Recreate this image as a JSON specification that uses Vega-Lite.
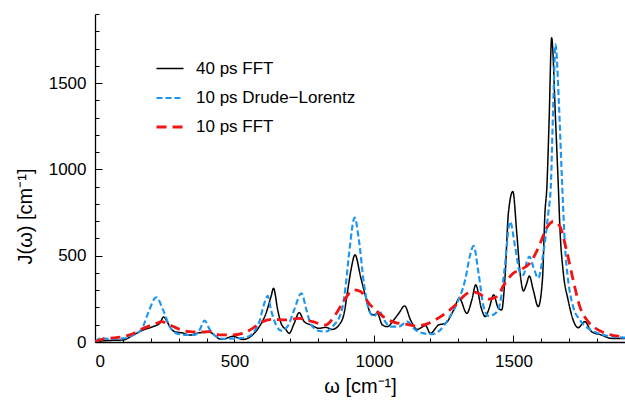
{
  "$schema": "https://vega.github.io/schema/vega-lite/v6.json",
  "width": 530,
  "height": 328,
  "autosize": {"type": "none"},
  "padding": {"left": 95, "top": 14, "right": 0, "bottom": 58},
  "config": {
    "font": "Liberation Sans",
    "view": {"stroke": null},
    "axis": {"grid": false, "domainColor": "black", "tickColor": "black", "labelColor": "black", "titleColor": "black", "labelFont": "Liberation Sans", "titleFont": "Liberation Sans", "labelFontSize": 17, "titleFontSize": 20, "titleFontWeight": "normal", "domainWidth": 1.3, "tickWidth": 1}
  },
  "datasets": {
    "d": [
      {"s": "40 ps FFT", "w": 0, "J": 2}, {"s": "40 ps FFT", "w": 40, "J": 8}, {"s": "40 ps FFT", "w": 101, "J": 12}, {"s": "40 ps FFT", "w": 137, "J": 40}, {"s": "40 ps FFT", "w": 173, "J": 70}, {"s": "40 ps FFT", "w": 208, "J": 89}, {"s": "40 ps FFT", "w": 232, "J": 108}, {"s": "40 ps FFT", "w": 246, "J": 145}, {"s": "40 ps FFT", "w": 258, "J": 120}, {"s": "40 ps FFT", "w": 268, "J": 89}, {"s": "40 ps FFT", "w": 286, "J": 60}, {"s": "40 ps FFT", "w": 315, "J": 52}, {"s": "40 ps FFT", "w": 339, "J": 40}, {"s": "40 ps FFT", "w": 375, "J": 54}, {"s": "40 ps FFT", "w": 411, "J": 56}, {"s": "40 ps FFT", "w": 435, "J": 31}, {"s": "40 ps FFT", "w": 446, "J": 18}, {"s": "40 ps FFT", "w": 458, "J": 16}, {"s": "40 ps FFT", "w": 494, "J": 33}, {"s": "40 ps FFT", "w": 530, "J": 15}, {"s": "40 ps FFT", "w": 565, "J": 41}, {"s": "40 ps FFT", "w": 589, "J": 89}, {"s": "40 ps FFT", "w": 613, "J": 166}, {"s": "40 ps FFT", "w": 631, "J": 263}, {"s": "40 ps FFT", "w": 640, "J": 311}, {"s": "40 ps FFT", "w": 655, "J": 186}, {"s": "40 ps FFT", "w": 667, "J": 108}, {"s": "40 ps FFT", "w": 685, "J": 70}, {"s": "40 ps FFT", "w": 696, "J": 50}, {"s": "40 ps FFT", "w": 714, "J": 108}, {"s": "40 ps FFT", "w": 732, "J": 170}, {"s": "40 ps FFT", "w": 750, "J": 118}, {"s": "40 ps FFT", "w": 774, "J": 99}, {"s": "40 ps FFT", "w": 804, "J": 79}, {"s": "40 ps FFT", "w": 827, "J": 85}, {"s": "40 ps FFT", "w": 851, "J": 73}, {"s": "40 ps FFT", "w": 875, "J": 99}, {"s": "40 ps FFT", "w": 893, "J": 166}, {"s": "40 ps FFT", "w": 905, "J": 290}, {"s": "40 ps FFT", "w": 918, "J": 420}, {"s": "40 ps FFT", "w": 932, "J": 505}, {"s": "40 ps FFT", "w": 952, "J": 379}, {"s": "40 ps FFT", "w": 970, "J": 263}, {"s": "40 ps FFT", "w": 988, "J": 166}, {"s": "40 ps FFT", "w": 1000, "J": 157}, {"s": "40 ps FFT", "w": 1012, "J": 166}, {"s": "40 ps FFT", "w": 1030, "J": 99}, {"s": "40 ps FFT", "w": 1048, "J": 89}, {"s": "40 ps FFT", "w": 1071, "J": 128}, {"s": "40 ps FFT", "w": 1089, "J": 166}, {"s": "40 ps FFT", "w": 1110, "J": 209}, {"s": "40 ps FFT", "w": 1131, "J": 128}, {"s": "40 ps FFT", "w": 1155, "J": 73}, {"s": "40 ps FFT", "w": 1185, "J": 95}, {"s": "40 ps FFT", "w": 1202, "J": 50}, {"s": "40 ps FFT", "w": 1232, "J": 99}, {"s": "40 ps FFT", "w": 1256, "J": 108}, {"s": "40 ps FFT", "w": 1286, "J": 186}, {"s": "40 ps FFT", "w": 1306, "J": 253}, {"s": "40 ps FFT", "w": 1333, "J": 166}, {"s": "40 ps FFT", "w": 1351, "J": 244}, {"s": "40 ps FFT", "w": 1365, "J": 331}, {"s": "40 ps FFT", "w": 1385, "J": 195}, {"s": "40 ps FFT", "w": 1399, "J": 147}, {"s": "40 ps FFT", "w": 1413, "J": 195}, {"s": "40 ps FFT", "w": 1429, "J": 273}, {"s": "40 ps FFT", "w": 1446, "J": 195}, {"s": "40 ps FFT", "w": 1458, "J": 186}, {"s": "40 ps FFT", "w": 1470, "J": 379}, {"s": "40 ps FFT", "w": 1482, "J": 747}, {"s": "40 ps FFT", "w": 1498, "J": 872}, {"s": "40 ps FFT", "w": 1512, "J": 631}, {"s": "40 ps FFT", "w": 1524, "J": 399}, {"s": "40 ps FFT", "w": 1536, "J": 296}, {"s": "40 ps FFT", "w": 1548, "J": 341}, {"s": "40 ps FFT", "w": 1557, "J": 383}, {"s": "40 ps FFT", "w": 1571, "J": 302}, {"s": "40 ps FFT", "w": 1589, "J": 205}, {"s": "40 ps FFT", "w": 1604, "J": 360}, {"s": "40 ps FFT", "w": 1613, "J": 747}, {"s": "40 ps FFT", "w": 1620, "J": 901}, {"s": "40 ps FFT", "w": 1628, "J": 1288}, {"s": "40 ps FFT", "w": 1637, "J": 1762}, {"s": "40 ps FFT", "w": 1651, "J": 1288}, {"s": "40 ps FFT", "w": 1661, "J": 901}, {"s": "40 ps FFT", "w": 1667, "J": 650}, {"s": "40 ps FFT", "w": 1679, "J": 399}, {"s": "40 ps FFT", "w": 1696, "J": 244}, {"s": "40 ps FFT", "w": 1714, "J": 128}, {"s": "40 ps FFT", "w": 1732, "J": 83}, {"s": "40 ps FFT", "w": 1756, "J": 118}, {"s": "40 ps FFT", "w": 1780, "J": 60}, {"s": "40 ps FFT", "w": 1815, "J": 41}, {"s": "40 ps FFT", "w": 1851, "J": 21}, {"s": "40 ps FFT", "w": 1900, "J": 20},

      {"s": "10 ps Drude−Lorentz", "w": 0, "J": 0}, {"s": "10 ps Drude−Lorentz", "w": 18, "J": 21}, {"s": "10 ps Drude−Lorentz", "w": 54, "J": 18}, {"s": "10 ps Drude−Lorentz", "w": 101, "J": 21}, {"s": "10 ps Drude−Lorentz", "w": 137, "J": 41}, {"s": "10 ps Drude−Lorentz", "w": 167, "J": 73}, {"s": "10 ps Drude−Lorentz", "w": 190, "J": 166}, {"s": "10 ps Drude−Lorentz", "w": 220, "J": 259}, {"s": "10 ps Drude−Lorentz", "w": 244, "J": 186}, {"s": "10 ps Drude−Lorentz", "w": 268, "J": 89}, {"s": "10 ps Drude−Lorentz", "w": 292, "J": 50}, {"s": "10 ps Drude−Lorentz", "w": 327, "J": 41}, {"s": "10 ps Drude−Lorentz", "w": 357, "J": 41}, {"s": "10 ps Drude−Lorentz", "w": 375, "J": 70}, {"s": "10 ps Drude−Lorentz", "w": 393, "J": 124}, {"s": "10 ps Drude−Lorentz", "w": 411, "J": 73}, {"s": "10 ps Drude−Lorentz", "w": 435, "J": 31}, {"s": "10 ps Drude−Lorentz", "w": 458, "J": 18}, {"s": "10 ps Drude−Lorentz", "w": 506, "J": 21}, {"s": "10 ps Drude−Lorentz", "w": 536, "J": 25}, {"s": "10 ps Drude−Lorentz", "w": 565, "J": 50}, {"s": "10 ps Drude−Lorentz", "w": 589, "J": 118}, {"s": "10 ps Drude−Lorentz", "w": 607, "J": 224}, {"s": "10 ps Drude−Lorentz", "w": 619, "J": 267}, {"s": "10 ps Drude−Lorentz", "w": 631, "J": 186}, {"s": "10 ps Drude−Lorentz", "w": 649, "J": 99}, {"s": "10 ps Drude−Lorentz", "w": 667, "J": 66}, {"s": "10 ps Drude−Lorentz", "w": 690, "J": 89}, {"s": "10 ps Drude−Lorentz", "w": 714, "J": 186}, {"s": "10 ps Drude−Lorentz", "w": 740, "J": 282}, {"s": "10 ps Drude−Lorentz", "w": 758, "J": 186}, {"s": "10 ps Drude−Lorentz", "w": 774, "J": 102}, {"s": "10 ps Drude−Lorentz", "w": 804, "J": 64}, {"s": "10 ps Drude−Lorentz", "w": 827, "J": 60}, {"s": "10 ps Drude−Lorentz", "w": 857, "J": 99}, {"s": "10 ps Drude−Lorentz", "w": 875, "J": 140}, {"s": "10 ps Drude−Lorentz", "w": 887, "J": 200}, {"s": "10 ps Drude−Lorentz", "w": 899, "J": 330}, {"s": "10 ps Drude−Lorentz", "w": 911, "J": 514}, {"s": "10 ps Drude−Lorentz", "w": 931, "J": 721}, {"s": "10 ps Drude−Lorentz", "w": 946, "J": 592}, {"s": "10 ps Drude−Lorentz", "w": 964, "J": 341}, {"s": "10 ps Drude−Lorentz", "w": 982, "J": 186}, {"s": "10 ps Drude−Lorentz", "w": 1000, "J": 147}, {"s": "10 ps Drude−Lorentz", "w": 1018, "J": 182}, {"s": "10 ps Drude−Lorentz", "w": 1036, "J": 128}, {"s": "10 ps Drude−Lorentz", "w": 1060, "J": 89}, {"s": "10 ps Drude−Lorentz", "w": 1089, "J": 89}, {"s": "10 ps Drude−Lorentz", "w": 1119, "J": 118}, {"s": "10 ps Drude−Lorentz", "w": 1149, "J": 70}, {"s": "10 ps Drude−Lorentz", "w": 1179, "J": 50}, {"s": "10 ps Drude−Lorentz", "w": 1208, "J": 46}, {"s": "10 ps Drude−Lorentz", "w": 1238, "J": 70}, {"s": "10 ps Drude−Lorentz", "w": 1268, "J": 137}, {"s": "10 ps Drude−Lorentz", "w": 1298, "J": 224}, {"s": "10 ps Drude−Lorentz", "w": 1327, "J": 360}, {"s": "10 ps Drude−Lorentz", "w": 1345, "J": 505}, {"s": "10 ps Drude−Lorentz", "w": 1357, "J": 557}, {"s": "10 ps Drude−Lorentz", "w": 1375, "J": 399}, {"s": "10 ps Drude−Lorentz", "w": 1393, "J": 205}, {"s": "10 ps Drude−Lorentz", "w": 1411, "J": 151}, {"s": "10 ps Drude−Lorentz", "w": 1435, "J": 166}, {"s": "10 ps Drude−Lorentz", "w": 1452, "J": 224}, {"s": "10 ps Drude−Lorentz", "w": 1468, "J": 418}, {"s": "10 ps Drude−Lorentz", "w": 1488, "J": 698}, {"s": "10 ps Drude−Lorentz", "w": 1506, "J": 553}, {"s": "10 ps Drude−Lorentz", "w": 1524, "J": 399}, {"s": "10 ps Drude−Lorentz", "w": 1536, "J": 389}, {"s": "10 ps Drude−Lorentz", "w": 1548, "J": 466}, {"s": "10 ps Drude−Lorentz", "w": 1557, "J": 495}, {"s": "10 ps Drude−Lorentz", "w": 1571, "J": 437}, {"s": "10 ps Drude−Lorentz", "w": 1589, "J": 370}, {"s": "10 ps Drude−Lorentz", "w": 1607, "J": 514}, {"s": "10 ps Drude−Lorentz", "w": 1625, "J": 747}, {"s": "10 ps Drude−Lorentz", "w": 1634, "J": 901}, {"s": "10 ps Drude−Lorentz", "w": 1643, "J": 1385}, {"s": "10 ps Drude−Lorentz", "w": 1651, "J": 1724}, {"s": "10 ps Drude−Lorentz", "w": 1663, "J": 1385}, {"s": "10 ps Drude−Lorentz", "w": 1675, "J": 901}, {"s": "10 ps Drude−Lorentz", "w": 1685, "J": 553}, {"s": "10 ps Drude−Lorentz", "w": 1696, "J": 360}, {"s": "10 ps Drude−Lorentz", "w": 1714, "J": 205}, {"s": "10 ps Drude−Lorentz", "w": 1738, "J": 128}, {"s": "10 ps Drude−Lorentz", "w": 1768, "J": 79}, {"s": "10 ps Drude−Lorentz", "w": 1804, "J": 50}, {"s": "10 ps Drude−Lorentz", "w": 1839, "J": 35}, {"s": "10 ps Drude−Lorentz", "w": 1900, "J": 25},

      {"s": "10 ps FFT", "w": 0, "J": 0}, {"s": "10 ps FFT", "w": 30, "J": 18}, {"s": "10 ps FFT", "w": 77, "J": 25}, {"s": "10 ps FFT", "w": 125, "J": 41}, {"s": "10 ps FFT", "w": 173, "J": 79}, {"s": "10 ps FFT", "w": 220, "J": 108}, {"s": "10 ps FFT", "w": 238, "J": 118}, {"s": "10 ps FFT", "w": 268, "J": 99}, {"s": "10 ps FFT", "w": 304, "J": 73}, {"s": "10 ps FFT", "w": 339, "J": 60}, {"s": "10 ps FFT", "w": 375, "J": 58}, {"s": "10 ps FFT", "w": 411, "J": 60}, {"s": "10 ps FFT", "w": 446, "J": 41}, {"s": "10 ps FFT", "w": 494, "J": 41}, {"s": "10 ps FFT", "w": 530, "J": 50}, {"s": "10 ps FFT", "w": 565, "J": 79}, {"s": "10 ps FFT", "w": 601, "J": 118}, {"s": "10 ps FFT", "w": 637, "J": 131}, {"s": "10 ps FFT", "w": 685, "J": 128}, {"s": "10 ps FFT", "w": 732, "J": 137}, {"s": "10 ps FFT", "w": 780, "J": 118}, {"s": "10 ps FFT", "w": 827, "J": 99}, {"s": "10 ps FFT", "w": 857, "J": 147}, {"s": "10 ps FFT", "w": 887, "J": 224}, {"s": "10 ps FFT", "w": 917, "J": 292}, {"s": "10 ps FFT", "w": 929, "J": 302}, {"s": "10 ps FFT", "w": 952, "J": 292}, {"s": "10 ps FFT", "w": 982, "J": 224}, {"s": "10 ps FFT", "w": 1012, "J": 176}, {"s": "10 ps FFT", "w": 1042, "J": 137}, {"s": "10 ps FFT", "w": 1077, "J": 112}, {"s": "10 ps FFT", "w": 1113, "J": 104}, {"s": "10 ps FFT", "w": 1149, "J": 93}, {"s": "10 ps FFT", "w": 1185, "J": 102}, {"s": "10 ps FFT", "w": 1220, "J": 128}, {"s": "10 ps FFT", "w": 1256, "J": 166}, {"s": "10 ps FFT", "w": 1292, "J": 214}, {"s": "10 ps FFT", "w": 1327, "J": 273}, {"s": "10 ps FFT", "w": 1350, "J": 292}, {"s": "10 ps FFT", "w": 1375, "J": 282}, {"s": "10 ps FFT", "w": 1411, "J": 248}, {"s": "10 ps FFT", "w": 1440, "J": 263}, {"s": "10 ps FFT", "w": 1470, "J": 341}, {"s": "10 ps FFT", "w": 1500, "J": 399}, {"s": "10 ps FFT", "w": 1530, "J": 422}, {"s": "10 ps FFT", "w": 1559, "J": 457}, {"s": "10 ps FFT", "w": 1589, "J": 544}, {"s": "10 ps FFT", "w": 1619, "J": 660}, {"s": "10 ps FFT", "w": 1643, "J": 698}, {"s": "10 ps FFT", "w": 1667, "J": 669}, {"s": "10 ps FFT", "w": 1690, "J": 534}, {"s": "10 ps FFT", "w": 1714, "J": 360}, {"s": "10 ps FFT", "w": 1738, "J": 205}, {"s": "10 ps FFT", "w": 1768, "J": 118}, {"s": "10 ps FFT", "w": 1804, "J": 70}, {"s": "10 ps FFT", "w": 1839, "J": 46}, {"s": "10 ps FFT", "w": 1900, "J": 30}
    ]
  },
  "layer": [
    {
      "data": {"name": "d"},
      "mark": {"type": "line", "interpolate": "monotone", "clip": true},
      "encoding": {
        "x": {"field": "w", "type": "quantitative", "scale": {"domain": [0, 1900], "nice": false, "zero": false},
              "axis": {"orient": "bottom", "values": [0, 500, 1000, 1500], "format": "d", "tickSize": -7, "labelPadding": 18, "title": "ω [cm⁻¹]", "titleY": 44, "titleBaseline": "middle"}},
        "y": {"field": "J", "type": "quantitative", "scale": {"domain": [0, 1900], "nice": false},
              "axis": {"orient": "left", "values": [0, 500, 1000, 1500], "format": "d", "tickSize": -7, "labelPadding": 16, "title": "J(ω) [cm⁻¹]", "titleX": -70, "titleY": 202, "titleAngle": -90, "titleAlign": "center", "titleBaseline": "middle"}},
        "color": {"field": "s", "type": "nominal",
                  "scale": {"domain": ["40 ps FFT", "10 ps Drude−Lorentz", "10 ps FFT"], "range": ["#000000", "#1E96F0", "#F01414"]},
                  "legend": {"title": null, "orient": "none", "legendX": 60, "legendY": 40, "symbolType": "stroke", "symbolSize": 729, "labelFontSize": 17, "labelFont": "Liberation Sans", "labelColor": "black", "labelOffset": 11, "rowPadding": 6, "padding": 0}},
        "strokeDash": {"field": "s", "type": "nominal",
                  "scale": {"domain": ["40 ps FFT", "10 ps Drude−Lorentz", "10 ps FFT"], "range": [[1, 0], [6, 3], [10, 6]]},
                  "legend": {"title": null, "orient": "none", "legendX": 60, "legendY": 40, "symbolType": "stroke", "symbolSize": 729, "labelFontSize": 17, "labelFont": "Liberation Sans", "labelColor": "black", "labelOffset": 11, "rowPadding": 6, "padding": 0}},
        "strokeWidth": {"field": "s", "type": "nominal",
                  "scale": {"domain": ["40 ps FFT", "10 ps Drude−Lorentz", "10 ps FFT"], "range": [1.5, 2.8, 2.8]},
                  "legend": {"title": null, "orient": "none", "legendX": 60, "legendY": 40, "symbolType": "stroke", "symbolSize": 729, "labelFontSize": 17, "labelFont": "Liberation Sans", "labelColor": "black", "labelOffset": 11, "rowPadding": 6, "padding": 0}}
      }
    },
    {
      "data": {"name": "d"},
      "mark": {"type": "point", "opacity": 0},
      "encoding": {
        "x": {"field": "w", "type": "quantitative", "scale": {"domain": [0, 1900], "nice": false, "zero": false},
              "axis": {"orient": "bottom", "values": [100, 200, 300, 400, 600, 700, 800, 900, 1100, 1200, 1300, 1400, 1600, 1700, 1800, 1900], "labels": false, "domain": false, "tickSize": -4, "title": null}},
        "y": {"field": "J", "type": "quantitative", "scale": {"domain": [0, 1900], "nice": false},
              "axis": {"orient": "left", "values": [100, 200, 300, 400, 600, 700, 800, 900, 1100, 1200, 1300, 1400, 1600, 1700, 1800, 1900], "labels": false, "domain": false, "tickSize": -4, "title": null}}
      }
    }
  ],
  "resolve": {"axis": {"x": "independent", "y": "independent"}}
}
